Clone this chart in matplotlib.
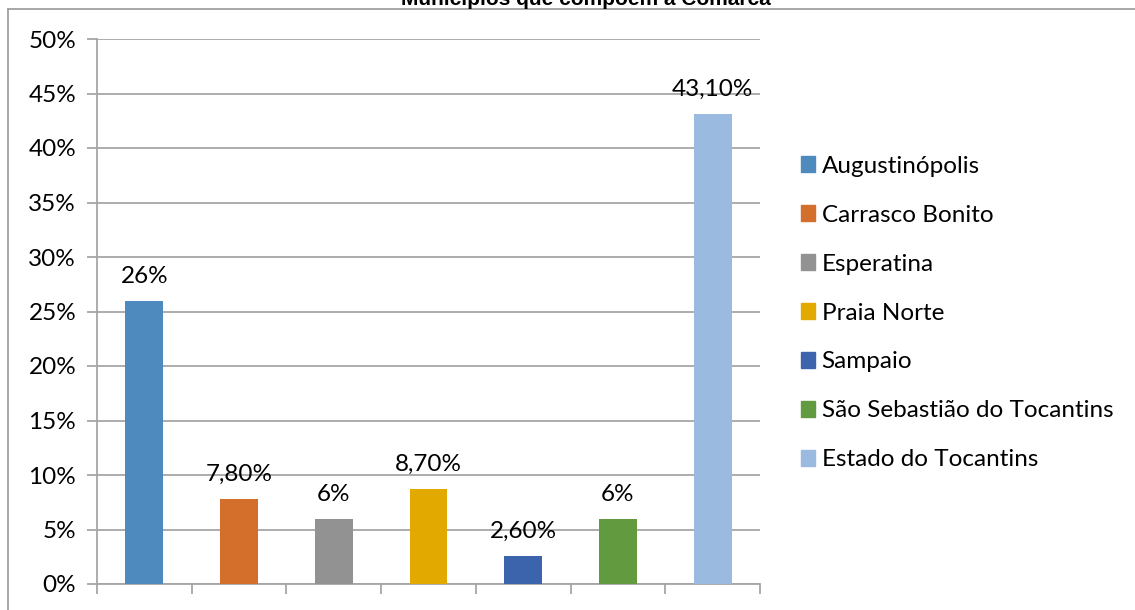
import matplotlib.pyplot as plt
from matplotlib.lines import Line2D
from matplotlib.ticker import FuncFormatter, MultipleLocator
import numpy as np

plt.rcParams['font.family'] = ['Lato', 'DejaVu Sans']

municipios = ['Augustinópolis', 'Carrasco Bonito', 'Esperatina', 'Praia Norte',
              'Sampaio', 'São Sebastião do Tocantins', 'Estado do Tocantins']
valores = [26.0, 7.8, 6.0, 8.7, 2.6, 6.0, 43.1]
rotulos = ['26%', '7,80%', '6%', '8,70%', '2,60%', '6%', '43,10%']
cores = ['#4F8ABE', '#D46E2B', '#929292', '#E2A900', '#3C64AD', '#629A3F', '#9BBAE0']
titulo = 'Municípios que compõem a Comarca'

fig = plt.figure(figsize=(11.35, 6.1), dpi=100)
ax = fig.add_axes([97/1135, 26/610, (760-97)/1135, (584-39)/610])

x = np.arange(len(valores))
barras = ax.bar(x, valores, width=0.4, color=cores, label=municipios, zorder=3)
for xi, v, r in zip(x, valores, rotulos):
	ax.annotate(r, (xi, v), xytext=(0, 14), textcoords='offset pixels',
				ha='center', va='bottom', fontsize=17.5, color='black')

grid = '#A6A6A6'
ax.set_xlim(-0.5, len(valores)-0.5)
ax.set_ylim(0, 50)
ax.yaxis.set_major_locator(MultipleLocator(5))
ax.yaxis.set_major_formatter(FuncFormatter(lambda v, p: '%d%%' % v))
ax.yaxis.grid(True, color=grid, linewidth=1.3, zorder=0)
ax.set_xticks(np.arange(-0.5, len(valores)))
ax.set_xticklabels([])
for s in ['top', 'right']:
	ax.spines[s].set_visible(False)
for s in ['left', 'bottom']:
	ax.spines[s].set_color(grid)
	ax.spines[s].set_linewidth(1.3)
ax.tick_params(axis='both', color=grid, width=1.3, length=7)
ax.tick_params(axis='y', labelsize=17.5, pad=8)

handles = [plt.Rectangle((0, 0), 1, 1, color=c) for c in cores]
fig.legend(handles, municipios, loc='center left', bbox_to_anchor=(779/1135, 1-313/610),
		   frameon=False, fontsize=17.5, handlelength=0.6, handleheight=0.6,
		   handletextpad=0.25, labelspacing=1.15)

# titulo cortado no topo, como na imagem original
fig.text(586/1135, 1-5/610, titulo, ha='center', va='baseline',
		 fontsize=15, fontweight='bold', family='Liberation Sans')

# borda externa do grafico
fig.add_artist(Line2D([8/1135, 1], [1-9/610, 1-9/610], color='#A0A0A0', linewidth=1.3))
fig.add_artist(Line2D([8/1135, 8/1135], [0, 1-9/610], color='#A0A0A0', linewidth=1.3))

fig.savefig('out.png', dpi=100)
